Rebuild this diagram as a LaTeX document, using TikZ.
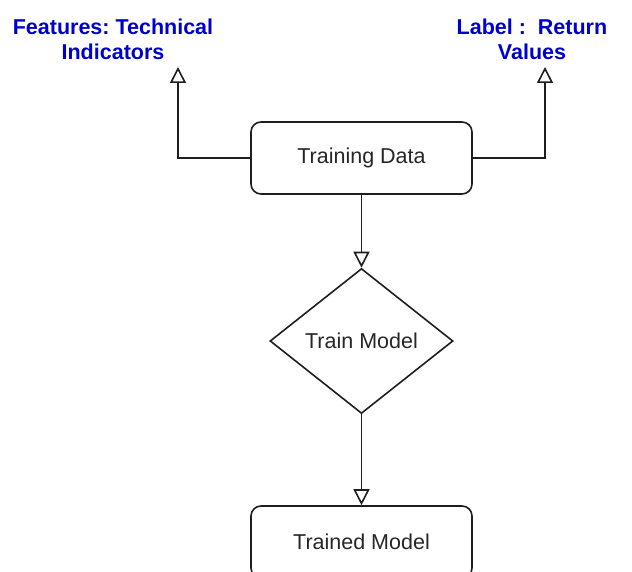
\documentclass[tikz,border=0pt]{standalone}
\usepackage{fontspec}
\setmainfont{Liberation Sans}
\usetikzlibrary{shapes.geometric,arrows.meta}
\definecolor{lblblue}{RGB}{0,0,204}
\definecolor{linegray}{RGB}{30,30,30}
\frenchspacing
\begin{document}
\begin{tikzpicture}[x=1pt,y=-1pt,
  box/.style={draw=linegray, line width=1.6pt, rounded corners=10pt, minimum width=221pt, minimum height=72pt, inner sep=0pt, font=\fontsize{21.5}{24}\selectfont, text=black!85},
  dia/.style={draw=linegray, line width=1.6pt, diamond, minimum width=183pt, minimum height=145pt, inner sep=0pt, font=\fontsize{21.5}{24}\selectfont, text=black!85},
  lbl/.style={text=lblblue, font=\bfseries\fontsize{21.5}{25}\selectfont, align=center, inner sep=0pt},
  conn/.style={draw=linegray, line width=1.6pt, -{Triangle[open, length=16pt, width=16pt]}}
]
\useasboundingbox (0,0) rectangle (632,572);
\begin{scope}
\clip (0,0) rectangle (632,572);
\node[box] (td) at (361.5,158) {Training Data};
\node[dia] (tm) at (361.5,341) {Train Model};
\node[box] (out) at (361.5,542) {Trained Model};
\node[lbl] (feat) at (113,39.5) {Features: Technical\\Indicators};
\node[lbl] (lab) at (532,39.5) {Label :\ \ Return\\Values};
\coordinate (fa) at (178,67);
\coordinate (la) at (545,67);
\draw[conn] (td.west) -| (fa);
\draw[conn] (td.east) -| (la);
\draw[conn] (td.south) -- (tm.north);
\draw[conn] (tm.south) -- (out.north);
\end{scope}
\end{tikzpicture}
\end{document}
